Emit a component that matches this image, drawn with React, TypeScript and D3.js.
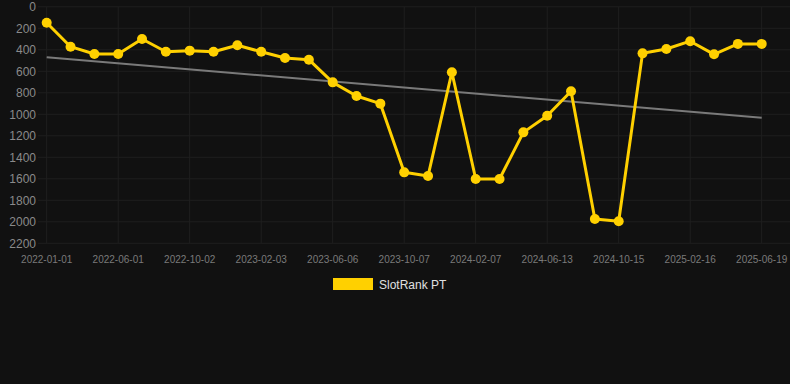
import React from "react";
import * as d3 from "d3";

const dates: string[] = [
  "2022-01-01", "2022-02-20", "2022-04-11",
  "2022-06-01", "2022-07-12", "2022-08-22",
  "2022-10-02", "2022-11-12", "2022-12-23",
  "2023-02-03", "2023-03-16", "2023-04-26",
  "2023-06-06", "2023-07-17", "2023-08-27",
  "2023-10-07", "2023-11-17", "2023-12-28",
  "2024-02-07", "2024-03-20", "2024-05-02",
  "2024-06-13", "2024-07-24", "2024-09-03",
  "2024-10-15", "2024-11-25", "2025-01-05",
  "2025-02-16", "2025-03-28", "2025-05-09",
  "2025-06-19",
];
const tickLabels: string[] = [
  "2022-01-01", "2022-06-01", "2022-10-02", "2023-02-03", "2023-06-06",
  "2023-10-07", "2024-02-07", "2024-06-13", "2024-10-15", "2025-02-16", "2025-06-19",
];
const rankValues: number[] = [
  148, 371, 439, 439, 300, 418, 408, 418, 358, 418, 476, 492, 703, 830, 901,
  1540, 1574, 609, 1602, 1602, 1168, 1013, 786, 1974, 1995, 433, 393, 320, 442, 345, 345,
];
const yTicks: number[] = [0, 200, 400, 600, 800, 1000, 1200, 1400, 1600, 1800, 2000, 2200];
const seriesName = "SlotRank PT";

const W = 790;
const H = 384;

export default function App() {
  const x = d3.scalePoint<string>().domain(dates).range([46.7, 761.7]);
  const y = d3.scaleLinear().domain([0, 2200]).range([6.8, 243.3]);

  // linear regression trend
  const n = rankValues.length;
  const xs = rankValues.map((_, i) => i);
  const mx = d3.mean(xs) as number;
  const my = d3.mean(rankValues) as number;
  let num = 0, den = 0;
  xs.forEach((xi, i) => {
    num += (xi - mx) * (rankValues[i] - my);
    den += (xi - mx) * (xi - mx);
  });
  const slope = num / den;
  const intercept = my - slope * mx;
  const trendStart = intercept;
  const trendEnd = intercept + slope * (n - 1);

  const line = d3
    .line<number>()
    .x((_, i) => x(dates[i]) as number)
    .y((d) => y(d));

  const font = "'Liberation Sans', Arial, Helvetica, sans-serif";
  const gridColor = "#1f1f1f";
  const left = 38;
  const right = 790;

  return (
    <div style={{ position: "absolute", left: 0, top: 0, width: W, height: H }}>
      <svg width={W} height={H} style={{ display: "block", background: "#111111" }}>
        <rect x={0} y={0} width={W} height={H} fill="#111111" />
        {yTicks.map((t) => (
          <g key={"y" + t}>
            <line x1={left} x2={right} y1={y(t)} y2={y(t)} stroke={gridColor} strokeWidth={1} />
            <text
              x={36}
              y={y(t)}
              dy="0.35em"
              textAnchor="end"
              fontFamily={font}
              fontSize={12}
              fill="#8a8a8a"
            >
              {t}
            </text>
          </g>
        ))}
        {tickLabels.map((lbl) => (
          <g key={"x" + lbl}>
            <line
              x1={x(lbl) as number}
              x2={x(lbl) as number}
              y1={y(0)}
              y2={y(2200)}
              stroke={gridColor}
              strokeWidth={1}
            />
            <text
              x={x(lbl) as number}
              y={259.5}
              dy="0.35em"
              textAnchor="middle"
              fontFamily={font}
              fontSize={10}
              fill="#7a7a7a"
            >
              {lbl}
            </text>
          </g>
        ))}
        <line
          x1={x(dates[0]) as number}
          x2={x(dates[n - 1]) as number}
          y1={y(trendStart)}
          y2={y(trendEnd)}
          stroke="#7a7a7a"
          strokeWidth={2}
        />
        <path d={line(rankValues) || ""} fill="none" stroke="#FFD000" strokeWidth={3} strokeLinejoin="round" />
        {rankValues.map((v, i) => (
          <circle key={"p" + i} cx={x(dates[i]) as number} cy={y(v)} r={5} fill="#FFD000" />
        ))}
        <rect x={333} y={278} width={40} height={12} fill="#FFD000" />
        <text x={379} y={284.5} dy="0.35em" fontFamily={font} fontSize={12} fill="#e0e0e0">
          {seriesName}
        </text>
      </svg>
    </div>
  );
}
